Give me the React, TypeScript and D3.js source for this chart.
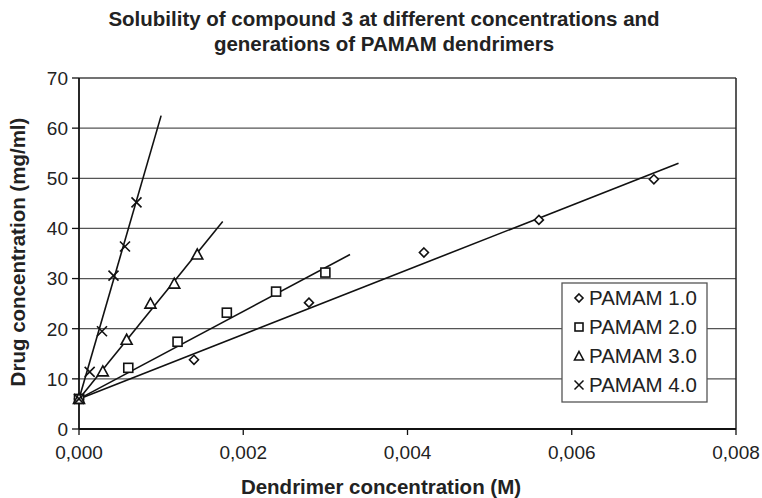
import React from "react";
import * as d3 from "d3";

const seriesNames = ["PAMAM 1.0", "PAMAM 2.0", "PAMAM 3.0", "PAMAM 4.0"];
const symbols = ["diamond", "square", "triangle", "cross"];

const pamam1X = [0, 0.0014, 0.0028, 0.0042, 0.0056, 0.007];
const pamam1Y = [6, 13.8, 25.2, 35.2, 41.7, 49.8];
const pamam2X = [0, 0.0006, 0.0012, 0.0018, 0.0024, 0.003];
const pamam2Y = [6, 12.2, 17.4, 23.2, 27.4, 31.2];
const pamam3X = [0, 0.00029, 0.00058, 0.00087, 0.00116, 0.00144];
const pamam3Y = [6, 11.5, 17.8, 25.0, 29.0, 34.8];
const pamam4X = [0, 0.00013, 0.00028, 0.00042, 0.00056, 0.0007];
const pamam4Y = [6, 11.4, 19.5, 30.6, 36.4, 45.2];

// trend lines: [x0, y0, x1, y1]
const trend1 = [0, 6, 0.0073, 53.0];
const trend2 = [0, 6, 0.0033, 34.8];
const trend3 = [0, 6, 0.00175, 41.4];
const trend4 = [0, 6, 0.001, 62.5];

const xTicks = [0, 0.002, 0.004, 0.006, 0.008];
const yTicks = [0, 10, 20, 30, 40, 50, 60, 70];

const titleLines = [
  "Solubility of compound 3 at different concentrations and",
  "generations of PAMAM dendrimers",
];
const xTitle = "Dendrimer concentration (M)";
const yTitle = "Drug concentration (mg/ml)";

const W = 762;
const H = 498;
const L = 79, R = 736, T = 78, B = 429;
const FONT = "'Liberation Sans', Arial, Helvetica, sans-serif";
const TXT = "#222";

function Marker({ type, x, y }: { type: string; x: number; y: number }) {
  const s = 4.5;
  const common = { fill: "white", stroke: "#111", strokeWidth: 1.6 };
  if (type === "diamond")
    return <path d={`M${x},${y - s}L${x + s},${y}L${x},${y + s}L${x - s},${y}Z`} {...common} />;
  if (type === "square")
    return <rect x={x - s} y={y - s} width={2 * s} height={2 * s} {...common} />;
  if (type === "triangle")
    return <path d={`M${x},${y - 5.5}L${x + 5.5},${y + 4.5}L${x - 5.5},${y + 4.5}Z`} {...common} />;
  return (
    <path d={`M${x - 5},${y - 5}L${x + 5},${y + 5}M${x + 5},${y - 5}L${x - 5},${y + 5}`} fill="none" stroke="#111" strokeWidth={1.6} />
  );
}

function LegendMarker({ type, x, y }: { type: string; x: number; y: number }) {
  const s = 4;
  const common = { fill: "white", stroke: "#111", strokeWidth: 1.6 };
  if (type === "diamond")
    return <path d={`M${x},${y - s}L${x + s},${y}L${x},${y + s}L${x - s},${y}Z`} {...common} />;
  if (type === "square")
    return <rect x={x - s} y={y - s} width={2 * s} height={2 * s} {...common} />;
  if (type === "triangle")
    return <path d={`M${x},${y - 4.5}L${x + 4.5},${y + 4}L${x - 4.5},${y + 4}Z`} {...common} />;
  return <path d={`M${x - 4.5},${y - 4.5}L${x + 4.5},${y + 4.5}M${x + 4.5},${y - 4.5}L${x - 4.5},${y + 4.5}`} fill="none" stroke="#111" strokeWidth={1.5} />;
}

export default function App() {
  const x = d3.scaleLinear().domain([0, 0.008]).range([L, R]);
  const y = d3.scaleLinear().domain([0, 70]).range([B, T]);
  const fmt = (v: number) => d3.format(".3f")(v).replace(".", ",");

  const series = [
    { xs: pamam1X, ys: pamam1Y, t: trend1 },
    { xs: pamam2X, ys: pamam2Y, t: trend2 },
    { xs: pamam3X, ys: pamam3Y, t: trend3 },
    { xs: pamam4X, ys: pamam4Y, t: trend4 },
  ];
  const line = d3.line<[number, number]>().x((d) => x(d[0])).y((d) => y(d[1]));

  return (
    <svg width={W} height={H} style={{ display: "block", position: "absolute", left: 0, top: 0 }} fontFamily={FONT}>
      <rect width={W} height={H} fill="white" />
      {titleLines.map((t, i) => (
        <text key={i} x={384} y={26 + i * 25} textAnchor="middle" fontWeight="bold" fontSize={20.5} fill={TXT}>
          {t}
        </text>
      ))}
      {/* gridlines */}
      {yTicks.filter((v) => v > 0 && v < 70).map((v) => (
        <line key={v} x1={L} x2={R} y1={y(v)} y2={y(v)} stroke="#555" strokeWidth={1.3} />
      ))}
      {/* frame */}
      <line x1={L} x2={R} y1={T} y2={T} stroke="#444" strokeWidth={1.5} />
      <line x1={R} x2={R} y1={T} y2={B} stroke="#222" strokeWidth={1.5} />
      <line x1={L} x2={L} y1={T} y2={B} stroke="#111" strokeWidth={1.8} />
      <line x1={L} x2={R} y1={B} y2={B} stroke="#111" strokeWidth={1.8} />
      {/* y ticks */}
      {yTicks.map((v) => (
        <g key={v}>
          <line x1={L - 7} x2={L} y1={y(v)} y2={y(v)} stroke="#111" strokeWidth={1.3} />
          <text x={L - 11} y={y(v)} dy="0.36em" textAnchor="end" fontSize={19} fill={TXT}>{v}</text>
        </g>
      ))}
      {/* x ticks */}
      {xTicks.map((v) => (
        <g key={v}>
          <line x1={x(v)} x2={x(v)} y1={B} y2={B + 6} stroke="#111" strokeWidth={1.3} />
          <text x={x(v)} y={459} textAnchor="middle" fontSize={19} fill={TXT}>{fmt(v)}</text>
        </g>
      ))}
      <text x={381} y={494} textAnchor="middle" fontWeight="bold" fontSize={20.5} fill={TXT}>{xTitle}</text>
      <text transform={`translate(25,${252}) rotate(-90)`} textAnchor="middle" fontWeight="bold" fontSize={20.5} fill={TXT}>{yTitle}</text>
      {/* trend lines */}
      {series.map((s, i) => (
        <path key={i} d={line([[s.t[0], s.t[1]], [s.t[2], s.t[3]]]) || ""} stroke="#111" strokeWidth={1.6} fill="none" />
      ))}
      {/* markers */}
      {series.map((s, i) =>
        s.xs.map((xv, j) => <Marker key={`${i}-${j}`} type={symbols[i]} x={x(xv)} y={y(s.ys[j])} />)
      )}
      {/* legend */}
      <rect x={562} y={283} width={145} height={119} fill="white" stroke="#555" strokeWidth={1.3} />
      {seriesNames.map((n, i) => (
        <g key={n}>
          <LegendMarker type={symbols[i]} x={579} y={298 + i * 29} />
          <text x={589} y={298 + i * 29} dy="0.36em" fontSize={20.5} fill={TXT}>{n}</text>
        </g>
      ))}
    </svg>
  );
}
